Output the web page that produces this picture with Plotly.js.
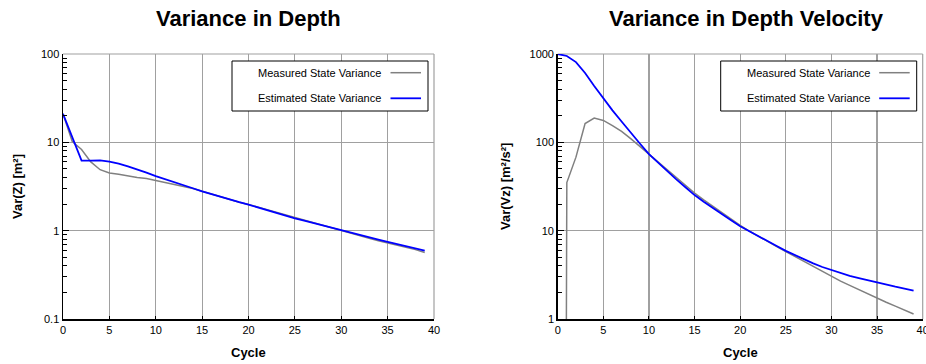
<!DOCTYPE html>
<html>
<head>
<meta charset="utf-8">
<script src="https://cdn.plot.ly/plotly-3.0.1.min.js"></script>
<style>
html,body{margin:0;padding:0;background:#fff;}
#chart{width:926px;height:364px;}
</style>
</head>
<body>
<div id="chart"></div>
<script>
// ---- data ----
const cycles = [0,1,2,3,4,5,6,7,8,9,10,11,12,13,14,15,16,17,18,19,20,21,22,23,24,25,26,27,28,29,30,31,32,33,34,35,36,37,38,39];

const depthMeasured = [21,10.2,8.3,6.0,4.9,4.5,4.35,4.15,4.0,3.9,3.7,3.5,3.35,3.2,3.0,2.8,2.6,2.42,2.25,2.1,1.98,1.85,1.73,1.6,1.49,1.39,1.3,1.21,1.13,1.06,0.99,0.93,0.875,0.82,0.77,0.73,0.69,0.65,0.61,0.565];
const depthEstimated = [21,11.4,6.2,6.2,6.25,6.05,5.75,5.35,4.95,4.55,4.15,3.85,3.55,3.28,3.02,2.78,2.58,2.4,2.24,2.1,1.97,1.83,1.7,1.59,1.48,1.38,1.3,1.22,1.14,1.07,1.0,0.94,0.885,0.835,0.79,0.745,0.705,0.67,0.63,0.595];

const velMeasured = [1e-30,35,68,163,188,177,155,133,110,90,73.5,59.5,48.5,39.5,32.5,26.7,22.3,18.8,15.8,13.5,11.5,9.9,8.6,7.5,6.6,5.8,5.1,4.5,3.95,3.45,3.0,2.68,2.4,2.14,1.92,1.71,1.55,1.4,1.26,1.14];
const velEstimated = [1000,950,810,610,435,312,230,172,131,97,73.5,58.5,47,38,31,25.3,21.3,18.0,15.3,13.1,11.2,9.8,8.6,7.6,6.7,5.9,5.26,4.72,4.26,3.88,3.57,3.30,3.08,2.90,2.73,2.58,2.45,2.32,2.21,2.10];

const seriesNames = ["Measured State Variance", "Estimated State Variance"];
const xTicks = [0,5,10,15,20,25,30,35,40];
const depthYTicks = [0.1,1,10,100];
const depthYTickText = ["0.1","1","10","100"];
const depthMinorTicks = [0.2,0.3,0.4,0.5,0.6,0.7,0.8,0.9,2,3,4,5,6,7,8,9,20,30,40,50,60,70,80,90];
const velYTicks = [1,10,100,1000];
const velYTickText = ["1","10","100","1000"];
const velMinorTicks = [2,3,4,5,6,7,8,9,20,30,40,50,60,70,80,90,200,300,400,500,600,700,800,900];
const titles = ["Variance in Depth", "Variance in Depth Velocity"];
const xTitle = "Cycle";
const yTitles = ["Var(Z) [m²]", "Var(Vz) [m²/s²]"];

// ---- layout helpers ----
const W = 926, H = 364;
const px = x => x / W;
const py = y => 1 - y / H;
const FONT = "Liberation Sans, Arial, sans-serif";
const GRAY = "#808080", BLUE = "#0000ff", GRID = "#a0a0a0";

const plotTop = 54, plotBottom = 319;
const panels = [
  {left: 63, right: 434},
  {left: 557.7, right: 922.7}
];

const traces = [
  {x: cycles, y: depthMeasured, name: seriesNames[0], xaxis: "x", yaxis: "y", mode: "lines", line: {color: GRAY, width: 1.5}},
  {x: cycles, y: depthEstimated, name: seriesNames[1], xaxis: "x", yaxis: "y", mode: "lines", line: {color: BLUE, width: 1.8}},
  {x: cycles, y: velMeasured, name: seriesNames[0], xaxis: "x2", yaxis: "y2", mode: "lines", line: {color: GRAY, width: 1.5}},
  {x: cycles, y: velEstimated, name: seriesNames[1], xaxis: "x2", yaxis: "y2", mode: "lines", line: {color: BLUE, width: 1.8}}
];

function xAxis(p, anchor) {
  return {
    domain: [px(p.left), px(p.right)], anchor: anchor, range: [0, 40],
    tickmode: "array", tickvals: xTicks, ticks: "inside", ticklen: 3, tickcolor: "#000",
    ticklabeloverflow: "allow",
    showline: true, linecolor: "#000", linewidth: 1.5,
    showgrid: true, gridcolor: GRID, gridwidth: 1.2, zeroline: false,
    tickfont: {family: FONT, size: 11, color: "#000"}
  };
}
function yAxis(range, vals, text, minorVals, anchor) {
  return {
    domain: [py(plotBottom), py(plotTop)], anchor: anchor, type: "log", range: range,
    tickmode: "array", tickvals: vals, ticktext: text, ticks: "inside", ticklen: 6, tickcolor: "#000",
    minor: {tickmode: "array", tickvals: minorVals, ticks: "inside", ticklen: 4, tickcolor: "#000", showgrid: false},
    showline: true, linecolor: "#000", linewidth: 1.5,
    showgrid: true, gridcolor: GRID, gridwidth: 1.2, zeroline: false,
    tickfont: {family: FONT, size: 11, color: "#000"}
  };
}

const shapes = [];
const annotations = [];
panels.forEach((p, i) => {
  // gray frame top/right
  shapes.push({type: "line", xref: "paper", yref: "paper", x0: px(p.left), x1: px(p.right), y0: py(plotTop), y1: py(plotTop), line: {color: GRID, width: 1.2}, layer: "below"});
  shapes.push({type: "line", xref: "paper", yref: "paper", x0: px(p.right), x1: px(p.right), y0: py(plotTop), y1: py(plotBottom), line: {color: GRID, width: 1.2}, layer: "below"});
  // legend box
  const bx1 = p.right - 6, bx0 = bx1 - 196, by0 = 61, by1 = 111;
  shapes.push({type: "rect", xref: "paper", yref: "paper", x0: px(bx0), x1: px(bx1), y0: py(by1), y1: py(by0), line: {color: "#000", width: 1}, fillcolor: "#fff", layer: "above"});
  const rows = [{y: 72.7, c: GRAY, w: 1.5}, {y: 98.3, c: BLUE, w: 1.8}];
  rows.forEach((r, k) => {
    shapes.push({type: "line", xref: "paper", yref: "paper", x0: px(bx1 - 37.5), x1: px(bx1 - 7), y0: py(r.y), y1: py(r.y), line: {color: r.c, width: r.w}, layer: "above"});
    annotations.push({xref: "paper", yref: "paper", x: px(bx1 - 45), y: py(r.y), xanchor: "right", yanchor: "middle", showarrow: false, text: seriesNames[k], font: {family: FONT, size: 11, color: "#000"}});
  });
  // titles
  annotations.push({xref: "paper", yref: "paper", x: px(i === 0 ? 248.5 : 746), y: py(18), xanchor: "center", yanchor: "middle", showarrow: false, text: "<b>" + titles[i] + "</b>", font: {family: FONT, size: 22, color: "#000"}});
  annotations.push({xref: "paper", yref: "paper", x: px((p.left + p.right) / 2), y: py(352), xanchor: "center", yanchor: "middle", showarrow: false, text: "<b>" + xTitle + "</b>", font: {family: FONT, size: 13, color: "#000"}});
  annotations.push({xref: "paper", yref: "paper", x: px(i === 0 ? 18 : 506), y: py(187), xanchor: "center", yanchor: "middle", textangle: -90, showarrow: false, text: "<b>" + yTitles[i] + "</b>", font: {family: FONT, size: 13, color: "#000"}});
});

const layout = {
  width: W, height: H, margin: {l: 0, r: 0, t: 0, b: 0},
  paper_bgcolor: "#fff", plot_bgcolor: "#fff", showlegend: false,
  font: {family: FONT, color: "#000"},
  xaxis: xAxis(panels[0], "y"),
  yaxis: yAxis([-1, 2], depthYTicks, depthYTickText, depthMinorTicks, "x"),
  xaxis2: xAxis(panels[1], "y2"),
  yaxis2: yAxis([0, 3], velYTicks, velYTickText, velMinorTicks, "x2"),
  shapes: shapes, annotations: annotations
};

Plotly.newPlot("chart", traces, layout, {staticPlot: true, displayModeBar: false});
</script>
</body>
</html>
